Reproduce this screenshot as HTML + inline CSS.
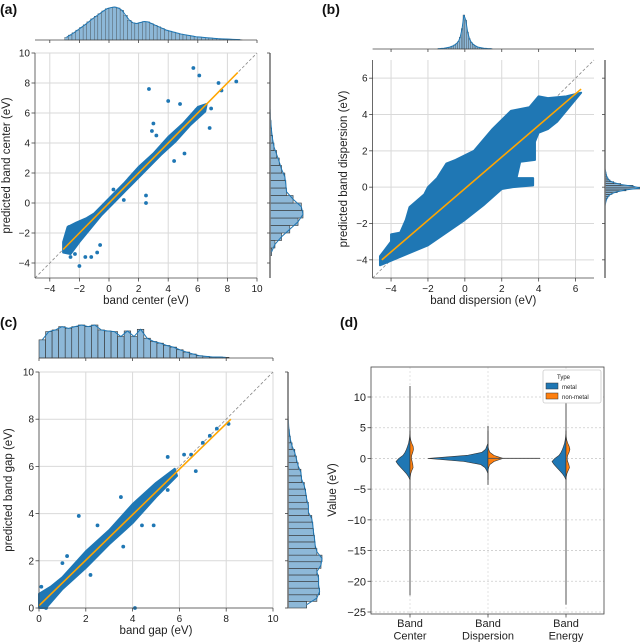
<!DOCTYPE html>
<html><head><meta charset="utf-8">
<style>
html,body{margin:0;padding:0;background:#fff;}
svg{display:block;font-family:"Liberation Sans","DejaVu Sans",sans-serif;}
</style></head>
<body>
<svg id="fig" width="640" height="642" viewBox="0 0 640 642" xmlns="http://www.w3.org/2000/svg"></svg>
<script>
// ---------- DATA ----------
// Panel a
const aTicks=[-4,-2,0,2,4,6,8,10];
const aCloud=[[-3.1,-2.6],[-2.8,-1.6],[-2.2,-1.3],[-1.5,-1.0],[-1,-0.7],[0,0.3],[1,1.3],[2,2.4],[3,3.3],[4,4.4],[5,5.3],[6,6.4],[6.6,6.6],[6.5,6.1],[5.5,5.2],[4.5,4.1],[3.5,3.2],[2.5,2.2],[1.5,1.2],[0.5,0.2],[-0.5,-0.8],[-1.5,-2.0],[-2,-2.6],[-2.6,-3.4],[-3.1,-3.3]];
const aOutX=[5.7,6.1,7.4,8.6,2.7,4,4.8,6.8,3,2.9,3.2,5.1,4.4,2.5,2.5,-1.2,-0.8,-0.6,-2,-1.6,-2.6,-2.3,0.3,1.0,-2.7,6.9,5.9,7.6];
const aOutY=[9,8.5,8,8.1,7.6,6.8,6.6,5,5.3,4.8,4.5,3.3,2.8,0.5,0,-3.6,-3.3,-2.8,-4.2,-3.6,-3.6,-3.4,0.9,0.2,-1.6,6.3,6.2,7.5];
const aFit=[[-3.1,-3.1],[8.7,8.7]];
const aTopStart=-3.0, aTopW=0.25;
const aTop=[0.08,0.15,0.22,0.3,0.38,0.46,0.55,0.64,0.72,0.8,0.88,0.95,0.98,1.0,0.97,0.9,0.75,0.6,0.52,0.5,0.53,0.56,0.55,0.5,0.45,0.4,0.35,0.3,0.27,0.24,0.21,0.18,0.16,0.14,0.12,0.1,0.09,0.08,0.07,0.06,0.05,0.04,0.035,0.03,0.025,0.02,0.015,0.01];
const aRightStart=-3.5, aRightW=0.5;
const aRight=[0.05,0.15,0.35,0.6,0.85,1.0,0.95,0.7,0.5,0.48,0.45,0.35,0.28,0.2,0.12,0.08,0.05,0.03,0.01,0.005];
// Panel b
const bXTicks=[-4,-2,0,2,4,6];
const bYTicks=[-4,-2,0,2,4,6];
const bCloud=[[-4.6,-4.3],[-2,-3.2],[0,-1.8],[1,-1],[2,-0.1],[2.6,0],[3.7,0.1],[3.7,0.5],[2.8,0.5],[3,1.4],[3.8,1.5],[3.8,2.5],[4,3],[4.5,3.2],[5,3.6],[6.3,5.2],[5.5,5],[4.5,4.9],[4,5],[3.5,4.4],[2.5,4.2],[1.5,3.2],[0.5,2],[-0.5,1.5],[-1,1.3],[-1.5,0.5],[-2,0],[-2.2,-0.4],[-3,-1.1],[-3.2,-1.8],[-3.5,-2.5],[-4,-2.6],[-4,-3],[-4.6,-3.8]];
const bFit=[[-4.5,-4.0],[6.3,5.4]];
const bTopStart=-1.5, bTopW=0.1;
const bTop=[0.01,0.01,0.02,0.02,0.03,0.04,0.05,0.07,0.09,0.12,0.16,0.22,0.35,0.6,1.0,0.85,0.5,0.3,0.2,0.14,0.1,0.07,0.05,0.04,0.03,0.02,0.02,0.01,0.01,0.01];
const bRightStart=-1.0, bRightW=0.1;
const bRight=[0.01,0.02,0.03,0.05,0.08,0.12,0.2,0.35,0.6,1.0,0.8,0.45,0.25,0.14,0.09,0.06,0.04,0.03,0.02,0.01];
// Panel c
const cTicks=[0,2,4,6,8,10];
const cCloud=[[0,0],[0,0.6],[0.5,0.9],[1,1.3],[2,2.4],[3,3.3],[4,4.4],[5,5.3],[5.8,5.9],[5.9,5.6],[5,4.7],[4,3.6],[3,2.7],[2,1.7],[1,0.8],[0.3,0]];
const cOutX=[1.7,4.9,4.4,4.1,5.5,6.2,6.7,7.3,7.6,8.1,3.5,2.5,1.2,3.6,2.2,6.5,7,5.5,0.1,1.0,0.3];
const cOutY=[3.9,3.5,3.5,0,6.4,6.5,5.8,7.3,7.6,7.8,4.7,3.5,2.2,2.6,1.4,6.5,7,5,0.9,1.9,0];
const cFit=[[0,0.1],[8.2,8.0]];
const cTopStart=0, cTopW=0.28;
const cTop=[0.55,0.8,0.85,0.95,0.9,0.95,1.0,0.95,1.0,0.85,0.82,0.8,0.65,0.82,0.65,0.87,0.6,0.5,0.45,0.38,0.33,0.25,0.18,0.12,0.07,0.05,0.03,0.03,0.02];
const cRightStart=0, cRightW=0.28;
const cRight=[0.55,0.85,0.93,0.9,0.9,0.85,0.97,1.0,0.85,0.8,0.78,0.75,0.73,0.7,0.6,0.6,0.55,0.52,0.48,0.4,0.38,0.3,0.25,0.2,0.12,0.07,0.04,0.02,0.01];
// Panel d
const dCategories=["Band\nCenter","Band\nDispersion","Band\nEnergy"];
const dYTicks=[10,5,0,-5,-10,-15,-20,-25];
const dWhiskerMax=[11.8,5.3,9.5];
const dWhiskerMin=[-22.3,-4.3,-23.8];
const dLevels=[-3.5,-3,-2.5,-2,-1.5,-1,-0.5,0,0.5,1,1.5,2,2.5,3,3.5,4.5];
const dMetalCenter=[0,0.1,0.25,0.45,0.65,0.85,1.0,0.8,0.5,0.35,0.25,0.17,0.1,0.06,0.03,0];
const dNonmetalCenter=[0,0.02,0.05,0.12,0.22,0.2,0.15,0.1,0.12,0.2,0.25,0.22,0.12,0.05,0.02,0];
const dMetalDisp=[0,0,0,0.02,0.05,0.12,0.4,1.0,0.35,0.1,0.04,0.02,0,0,0,0];
const dNonmetalDisp=[0,0,0,0,0.01,0.03,0.1,0.25,0.1,0.03,0.01,0,0,0,0,0];
const dMetalEnergy=[0,0.1,0.25,0.45,0.65,0.85,1.0,0.8,0.5,0.35,0.25,0.17,0.1,0.06,0.03,0];
const dNonmetalEnergy=[0,0.02,0.06,0.15,0.25,0.2,0.12,0.08,0.12,0.22,0.28,0.22,0.12,0.05,0.02,0];

// ---------- HELPERS ----------
const svg=document.getElementById('fig');
const NS='http://www.w3.org/2000/svg';
function mk(tag,attrs,parent){const e=document.createElementNS(NS,tag);for(const k in attrs)e.setAttribute(k,attrs[k]);(parent||svg).appendChild(e);return e;}
function lin(d0,d1,p0,p1){return v=>p0+(v-d0)*(p1-p0)/(d1-d0);}
const BLUE='#1f77b4', ORANGE='#ffa500', HIST='#8db8d8', GRID='#d9d9d9', SPINE='#444';

function txt(x,y,s,opts){const e=mk('text',Object.assign({x:x,y:y,'font-size':10,fill:'#222'},opts||{}));e.textContent=s;return e;}

function scatterPanel(P){
  const g=mk('g',{});
  
  
  const X=P.X,Y=P.Y;
  P.xt.forEach(t=>{const l=mk('line',{x1:X(t),x2:X(t),y1:P.y0,y2:P.y1,stroke:GRID,'stroke-width':1},g);});
  P.yt.forEach(t=>{const l=mk('line',{x1:P.x0,x2:P.x1,y1:Y(t),y2:Y(t),stroke:GRID,'stroke-width':1},g);});
  const dl=mk('line',{x1:X(P.diag[0]),y1:Y(P.diag[0]),x2:X(P.diag[1]),y2:Y(P.diag[1]),stroke:'#888','stroke-width':0.8,'stroke-dasharray':'3,2'},g);
  
  const d='M'+P.cloud.map(p=>X(p[0])+','+Y(p[1])).join('L')+'Z';
  const cl=mk('path',{d:d,fill:BLUE,stroke:BLUE,'stroke-width':2,'stroke-linejoin':'round'},g);
  
  if(P.ox){P.ox.forEach((v,i)=>{const c=mk('circle',{cx:X(v),cy:Y(P.oy[i]),r:1.9,fill:BLUE},g);});}
  const fl=mk('line',{x1:X(P.fit[0][0]),y1:Y(P.fit[0][1]),x2:X(P.fit[1][0]),y2:Y(P.fit[1][1]),stroke:ORANGE,'stroke-width':1.6},g);
  
  mk('line',{x1:P.x0,x2:P.x0,y1:P.y0,y2:P.y1,stroke:SPINE,'stroke-width':0.8},g);
  mk('line',{x1:P.x0,x2:P.x1,y1:P.y1,y2:P.y1,stroke:SPINE,'stroke-width':0.8},g);
  P.xt.forEach(t=>{mk('line',{x1:X(t),x2:X(t),y1:P.y1,y2:P.y1+3.5,stroke:SPINE,'stroke-width':0.8},g);
    const l=txt(X(t),P.y1+14,(t<0?'\u2212'+(-t):''+t),{'text-anchor':'middle'});});
  P.yt.forEach(t=>{mk('line',{x1:P.x0-3.5,x2:P.x0,y1:Y(t),y2:Y(t),stroke:SPINE,'stroke-width':0.8},g);
    const l=txt(P.x0-5,Y(t)+3.5,(t<0?'\u2212'+(-t):''+t),{'text-anchor':'end'});});
  const xl=txt((P.x0+P.x1)/2,P.y1+26,P.xlabel,{'text-anchor':'middle','font-size':11.5});
  
  const yl=txt(0,0,P.ylabel,{'text-anchor':'middle','font-size':11.5,transform:'translate('+P.ylx+','+(P.y0+P.y1)/2+') rotate(-90)'});
  
  const gt=mk('g',{});
  const pts=[];
  P.top.forEach((h,i)=>{const a=P.topStart+i*P.topW;const xa=X(a),xb=X(a+P.topW);const hp=h*P.topH;
    const r=mk('rect',{x:xa,y:P.topBase-hp,width:Math.max(xb-xa,0.5),height:hp,fill:HIST,stroke:'#333','stroke-width':P.topW*Math.abs(X(1)-X(0))>4?0.6:0.3},gt);
    
    pts.push((xa+xb)/2+','+(P.topBase-hp));});
  const kt=mk('polyline',{points:pts.join(' '),fill:'none',stroke:BLUE,'stroke-width':1},gt);
  mk('line',{x1:P.x0,x2:P.x1,y1:P.topBase,y2:P.topBase,stroke:SPINE,'stroke-width':0.8},gt);
  P.xt.forEach(t=>mk('line',{x1:X(t),x2:X(t),y1:P.topBase,y2:P.topBase+3,stroke:SPINE,'stroke-width':0.8},gt));
  const gr=mk('g',{});
  const rp=[];
  P.right.forEach((h,i)=>{const a=P.rightStart+i*P.rightW;const ya=Y(a),yb=Y(a+P.rightW);const wp=h*P.rightH;
    const r=mk('rect',{x:P.rightBase,y:yb,width:wp,height:Math.max(ya-yb,0.5),fill:HIST,stroke:'#333','stroke-width':0.6},gr);
    
    rp.push((P.rightBase+wp)+','+(ya+yb)/2);});
  const kr=mk('polyline',{points:rp.join(' '),fill:'none',stroke:BLUE,'stroke-width':1},gr);
  mk('line',{x1:P.rightBase,x2:P.rightBase,y1:P.y0,y2:P.y1,stroke:'#777','stroke-width':1.6},gr);
  P.yt.forEach(t=>mk('line',{x1:P.rightBase-3,x2:P.rightBase,y1:Y(t),y2:Y(t),stroke:SPINE,'stroke-width':0.8},gr));
  const pl=txt(P.lx,P.ly,P.label,{'font-size':14,'font-weight':'bold',fill:'#111'});
  
}

scatterPanel({name:'panel-a',X:lin(-5,10,35,257),Y:lin(10,-5,53,278),x0:35,x1:257,y0:53,y1:278,xt:aTicks,yt:aTicks,diag:[-5,10],
  cloud:aCloud,ox:aOutX,oy:aOutY,fit:aFit,xlabel:'band center (eV)',ylabel:'predicted band center (eV)',ylx:10,
  top:aTop,topStart:aTopStart,topW:aTopW,topBase:40,topH:33,right:aRight,rightStart:aRightStart,rightW:aRightW,rightBase:270,rightH:33,label:'(a)',lx:0,ly:14});
scatterPanel({name:'panel-b',X:lin(-5,7,372.6,594),Y:lin(7,-5,60,278),x0:372.6,x1:594,y0:60,y1:278,xt:bXTicks,yt:bYTicks,diag:[-5,7],
  cloud:bCloud,ox:null,fit:bFit,xlabel:'band dispersion (eV)',ylabel:'predicted band dispersion (eV)',ylx:347,
  top:bTop,topStart:bTopStart,topW:bTopW,topBase:49,topH:34,right:bRight,rightStart:bRightStart,rightW:bRightW,rightBase:605,rightH:35,label:'(b)',lx:322,ly:14});
scatterPanel({name:'panel-c',X:lin(0,10,39,273),Y:lin(10,0,372,608),x0:39,x1:273,y0:372,y1:608,xt:cTicks,yt:cTicks,diag:[0,10],
  cloud:cCloud,ox:cOutX,oy:cOutY,fit:cFit,xlabel:'band gap (eV)',ylabel:'predicted band gap (eV)',ylx:12,
  top:cTop,topStart:cTopStart,topW:cTopW,topBase:358,topH:33,right:cRight,rightStart:cRightStart,rightW:cRightW,rightBase:288,rightH:34,label:'(c)',lx:0,ly:327});

// ---------- Panel d ----------
(function(){
  const g=mk('g',{});
  const x0=371,x1=604,y0=367,y1=614;
  const Y=lin(10,-25,397,612);
  const catX=[410,488,566];
  dYTicks.forEach(t=>{const l=mk('line',{x1:x0,x2:x1,y1:Y(t),y2:Y(t),stroke:'#ccc','stroke-width':0.8,'stroke-dasharray':'2,2'},g);
    mk('line',{x1:x0-3.5,x2:x0,y1:Y(t),y2:Y(t),stroke:SPINE,'stroke-width':0.8},g);
    const tl=txt(x0-5,Y(t)+4,(t<0?'\u2212'+(-t):''+t),{'text-anchor':'end','font-size':11});});
  catX.forEach(cx=>{mk('line',{x1:cx,x2:cx,y1:y0,y2:y1,stroke:'#ddd','stroke-width':0.8,'stroke-dasharray':'2,2'},g);});
  const metal=[dMetalCenter,dMetalDisp,dMetalEnergy], non=[dNonmetalCenter,dNonmetalDisp,dNonmetalEnergy];
  const maxW=[14,60,14];
  dCategories.forEach((c,i)=>{
    const cx=catX[i];
    const wk=mk('line',{x1:cx,x2:cx,y1:Y(dWhiskerMax[i]),y2:Y(dWhiskerMin[i]),stroke:'#555','stroke-width':1},g);
    
    let pm='M'+cx+','+Y(dLevels[0]);
    dLevels.forEach((lv,k)=>{pm+='L'+(cx-metal[i][k]*maxW[i])+','+Y(lv);});
    pm+='Z';
    const vm=mk('path',{d:pm,fill:BLUE,stroke:'#333','stroke-width':0.6},g);
    let pn='M'+cx+','+Y(dLevels[0]);
    dLevels.forEach((lv,k)=>{pn+='L'+(cx+non[i][k]*maxW[i])+','+Y(lv);});
    pn+='Z';
    const vn=mk('path',{d:pn,fill:'#ff7f0e',stroke:'#333','stroke-width':0.6},g);
    const lines=c.split('\n');
    lines.forEach((s,k)=>{const t=txt(cx,y1+13+k*12.5,s,{'text-anchor':'middle','font-size':11});});
    mk('line',{x1:cx,x2:cx,y1:y1,y2:y1+3.5,stroke:SPINE,'stroke-width':0.8},g);
  });
  mk('line',{x1:488,x2:540,y1:Y(0),y2:Y(0),stroke:'#555','stroke-width':1},g);
  mk('rect',{x:x0,y:y0,width:x1-x0,height:y1-y0,fill:'none',stroke:SPINE,'stroke-width':0.8},g);
  const yl=txt(0,0,'Value (eV)',{'text-anchor':'middle','font-size':11.5,transform:'translate(336,490) rotate(-90)'});
  
  const lg=mk('g',{});
  mk('rect',{x:543,y:370,width:58,height:33,fill:'#fff',stroke:'#ccc','stroke-width':0.8,rx:2},lg);
  txt(557,379,'Type',{'font-size':6});
  mk('rect',{x:546,y:383,width:12,height:6,fill:BLUE,stroke:'#333','stroke-width':0.5},lg);
  const e1=txt(562,389,'metal',{'font-size':6});
  mk('rect',{x:546,y:393,width:12,height:6,fill:'#ff7f0e',stroke:'#333','stroke-width':0.5},lg);
  const e2=txt(562,399,'non-metal',{'font-size':6});
  const pl=txt(340,327,'(d)',{'font-size':14,'font-weight':'bold',fill:'#111'});
  
})();
</script>
</body></html>
